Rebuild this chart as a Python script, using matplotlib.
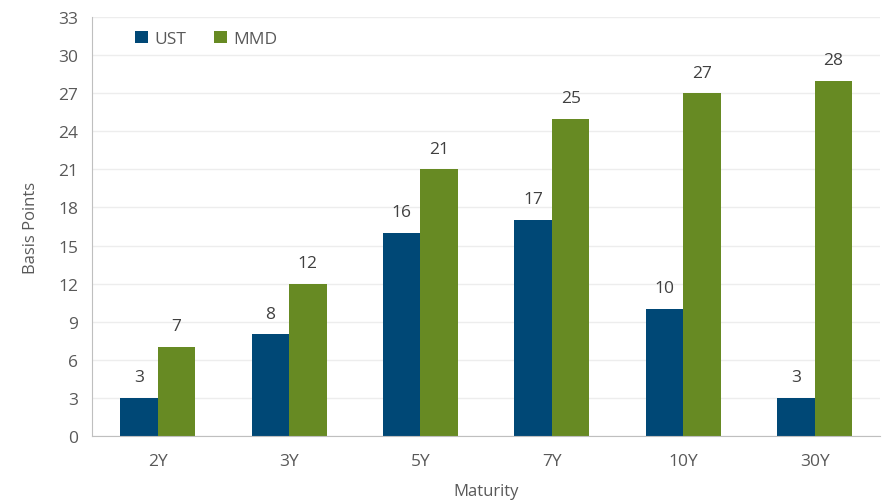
import numpy as np
from matplotlib import pyplot as plt

plt.rcParams['font.family'] = ['Open Sans', 'DejaVu Sans']

maturities = ['2Y', '3Y', '5Y', '7Y', '10Y', '30Y']
ust = [3, 8, 16, 17, 10, 3]
mmd = [7, 12, 21, 25, 27, 28]

text_color = '#595959'
ust_color = '#004876'
mmd_color = '#678A23'

fig = plt.figure(figsize=(8.84, 5.02), dpi=100)
ax = fig.add_axes([0.104, 0.1295, 0.892, 0.8345])

x = np.arange(len(maturities))
w = 0.285
b1 = ax.bar(x - w / 2, ust, w, color=ust_color, label='UST', zorder=2)
b2 = ax.bar(x + w / 2, mmd, w, color=mmd_color, label='MMD', zorder=2)

# 棒の上に値を表示
for bars in (b1, b2):
    for rect in bars:
        h = rect.get_height()
        ax.text(rect.get_x() + rect.get_width() / 2, h + 1.0, f'{h:g}',
                ha='center', va='bottom', fontsize=12.5, color='#404040')

ax.set_xlim(-0.5, len(maturities) - 0.5)
ax.set_ylim(0, 33)
ax.set_yticks(range(0, 34, 3))
ax.set_xticks(x)
ax.set_xticklabels(maturities)
ax.tick_params(axis='both', length=0, labelsize=12.5, colors=text_color)
ax.tick_params(axis='x', pad=12)
ax.tick_params(axis='y', pad=10)

ax.grid(axis='y', color='#EDEDED', linewidth=1, zorder=0)
for s in ('top', 'right'):
    ax.spines[s].set_visible(False)
ax.spines['left'].set_color('#BFBFBF')
ax.spines['bottom'].set_color('#BFBFBF')

ax.set_xlabel('Maturity', fontsize=12, color=text_color, labelpad=10)
ax.set_ylabel('Basis Points', fontsize=12, color=text_color, labelpad=14)

ax.legend(loc='upper left', bbox_to_anchor=(0.035, 1.005), ncol=2, frameon=False,
          fontsize=12.5, labelcolor=text_color, handlelength=0.75, handleheight=0.75,
          handletextpad=0.35, columnspacing=1.6)

plt.savefig('out.png', dpi=100)
